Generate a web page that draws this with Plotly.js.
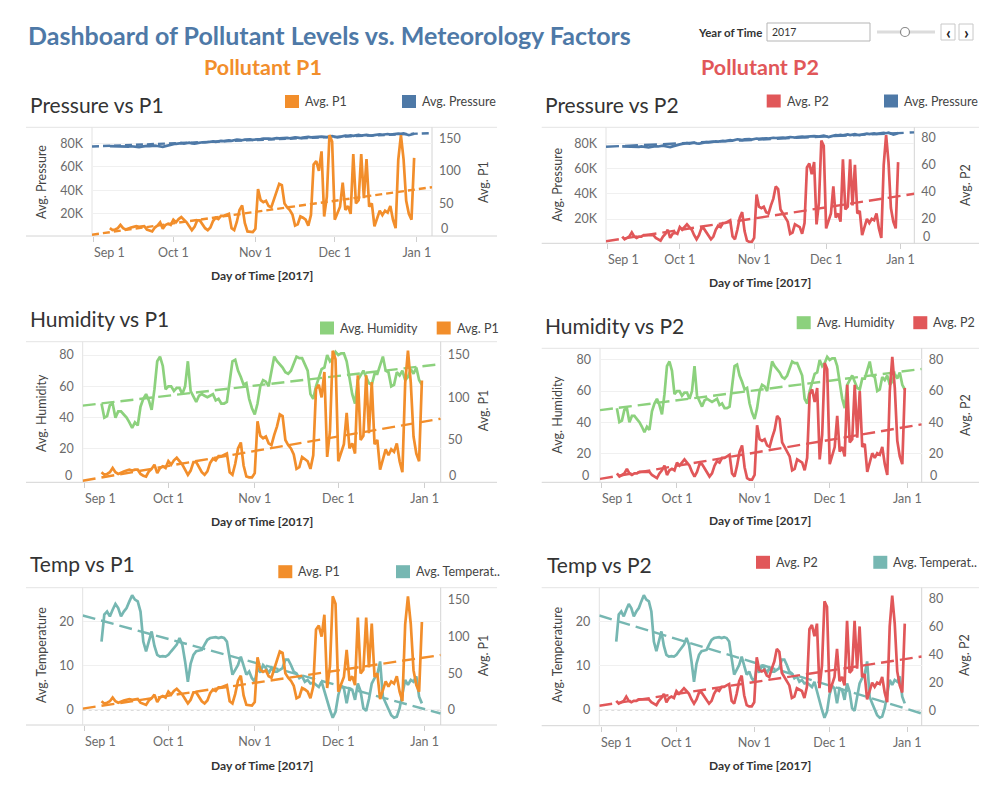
<!DOCTYPE html>
<html>
<head>
<meta charset="utf-8">
<script src="https://cdn.plot.ly/plotly-3.0.1.min.js"></script>
<style>
html,body{margin:0;padding:0;background:#ffffff;}
#chart{width:1000px;height:793px;}
</style>
</head>
<body>
<div id="chart"></div>
<script>
// ---------------- DATA (daily averages, 7 Sep 2017 .. 31 Dec 2017) ----------------
const firstDay = '2017-09-07';

const p1Values = [
  12, 9, 10, 12, 17, 12, 10, 12, 13, 14,
  15, 14, 15, 15, 10, 8, 7, 13, 16, 21,
  11, 17, 19, 17, 25, 21, 26, 29, 25, 21,
  15, 9, 14, 24, 24, 18, 12, 9, 13, 23,
  28, 26, 31, 31, 33, 34, 12, 9, 22, 40,
  47, 20, 7, 6, 6, 11, 72, 55, 52, 54,
  46, 44, 56, 66, 80, 78, 50, 44, 40, 33,
  16, 18, 30, 28, 25, 16, 32, 110, 115, 100,
  130, 30, 60, 155, 145, 25, 35, 45, 82, 40,
  46, 34, 126, 50, 55, 126, 58, 118, 45, 50,
  15, 28, 39, 32, 39, 36, 46, 25, 12, 117,
  155, 118, 54, 34, 25, 120
];

const p2Values = [
  7, 5, 6, 7, 10, 7, 6, 7, 7, 8,
  8, 8, 8, 8, 6, 5, 4, 7, 9, 12,
  6, 9, 10, 9, 14, 12, 14, 16, 14, 12,
  8, 5, 8, 13, 13, 10, 7, 5, 7, 12,
  15, 14, 17, 17, 18, 19, 7, 5, 12, 21,
  25, 11, 4, 3, 3, 6, 38, 29, 28, 29,
  25, 24, 30, 35, 44, 42, 27, 24, 22, 18,
  9, 10, 16, 15, 14, 9, 17, 58, 61, 53,
  62, 16, 32, 78, 74, 13, 19, 24, 44, 21,
  24, 18, 64, 27, 29, 64, 30, 60, 24, 26,
  8, 15, 20, 17, 20, 19, 24, 13, 6, 60,
  82, 62, 28, 18, 13, 62
];

const humidityValues = [
  49, 40, 41, 48, 49, 40, 44, 44, 42, 40,
  37, 33.5, 37, 35, 47, 52, 55, 51, 45, 58,
  76, 79, 73, 58, 60, 60, 57, 59, 59, 55,
  60, 76, 57, 53, 50, 54, 55, 54, 53, 54,
  55, 51, 52, 49, 49, 50, 63, 76, 77, 70,
  66, 61, 62, 52, 46, 42, 49, 60, 64, 63,
  60, 70, 79, 76, 74, 72, 69, 68, 70, 74,
  79, 78, 78, 74, 70, 55, 52, 60, 66, 71,
  72, 80, 76, 78, 82, 80, 81, 81, 76, 65,
  55, 49, 64, 67, 70, 66, 62, 61, 68, 68,
  73, 79, 70, 69, 60, 61, 69, 67, 70, 64,
  66, 71, 68, 72, 64, 61
];

const temperatureValues = [
  15.5, 21.6, 22.3, 21.2, 22.7, 24, 23.1, 21.2, 22.3, 23.1,
  24.6, 26, 25, 24.6, 22.3, 15.5, 13.3, 15.5, 17.8, 14.5,
  12.5, 12.1, 12.2, 12.1, 12.5, 13.3, 14, 14.8, 16.3, 14.8,
  11, 6.4, 10.5, 12.5, 13.3, 13.4, 13.6, 14.8, 15.9, 16.3,
  16.4, 16.5, 16.3, 16.5, 16.3, 15.5, 11.7, 8, 9.1, 10.2,
  12.1, 10.2, 8, 8.7, 7.2, 6.4, 9.5, 8.5, 10.2, 9.5,
  8.3, 9.5, 8.7, 8.7, 9.1, 9.5, 11.4, 11.4, 10.2, 8.7,
  8.3, 7.2, 7.6, 6.4, 6.8, 6, 6.2, 5.7, 5.2, 6.4,
  4.2, 1.9, 0, -1.75, -0.4, 3.4, 5.5, 4.9, 1.5, 4.9,
  4.6, 2.3, 6, 4.2, 0.4, -0.2, 2.5, 6, 7.2, 8,
  11, 3, 1.5, 0, -1.2, -1.75, -1.5, 0.4, 3.4, 6.8,
  5.7, 6.8, 6.4, 7.6, 3, 1.5
];

const pressureValues = [
  77600, 77500, 77300, 77100, 77400, 77200, 76900, 77200, 77500, 77300,
  77000, 76700, 77200, 77600, 77800, 77500, 77900, 78100, 77700, 77400,
  77000, 77600, 78300, 78800, 79200, 79600, 79900, 80200, 79800, 80100,
  80500, 80000, 79700, 80200, 80600, 80900, 80700, 81100, 81400, 81600,
  81300, 81700, 82000, 81800, 82200, 82500, 82100, 82700, 83200, 82900,
  82600, 83100, 83500, 83300, 83000, 83400, 83800, 83600, 83900, 84200,
  84000, 83700, 84100, 84400, 84200, 84500, 84800, 84600, 84300, 84700,
  85000, 84800, 84500, 84900, 85200, 85400, 85100, 85300, 85600, 85400,
  85700, 85500, 85300, 85800, 86100, 85600, 85000, 85500, 86200, 86500,
  86300, 86700, 86400, 86800, 87100, 86600, 86900, 87200, 86800, 86500,
  87000, 87400, 87700, 87300, 87600, 87900, 87500, 87800, 88100, 88300,
  88000, 88400, 87700, 86900, 87500, 88200
];

// linear trend lines (value at left and right end of the date axis)
const trendDates = ['2017-08-31 06:00', '2018-01-06 18:00'];
const p1Trend = [2, 75];
const p2Trend = [3.5, 38.6];
const humidityTrend = [47.7, 74.2];
const temperatureTrend = [21.4, -0.8];
const pressureTrend = [77300, 88700];

// ticks
const dateTicks = ['2017-09-01', '2017-10-01', '2017-11-01', '2017-12-01', '2018-01-01'];
const dateTickLabels = ['Sep 1', 'Oct 1', 'Nov 1', 'Dec 1', 'Jan 1'];
const pressureTicks = [20000, 40000, 60000, 80000];
const pressureTickLabels = ['20K', '40K', '60K', '80K'];
const p1Ticks = [0, 50, 100, 150];
const p2Ticks = [0, 20, 40, 60, 80];
const humidityTicks = [0, 20, 40, 60, 80];
const temperatureTicks = [0, 10, 20];

// ---------------- BUILD ----------------
function buildDates(n) {
  const out = [];
  const base = new Date(firstDay + 'T00:00:00Z');
  for (let i = 0; i < n; i++) {
    const d = new Date(base.getTime() + i * 86400000);
    out.push(d.toISOString().slice(0, 10));
  }
  return out;
}
const dates = buildDates(p1Values.length);

const W = 1000, H = 793;
const fx = x => x / W;
const fy = y => 1 - y / H;
const FONT = 'Lato, "Open Sans", "DejaVu Sans", sans-serif';

const COL = {p1: '#f28e2b', p2: '#e15759', pressure: '#4e79a7', humidity: '#8cd17d', temp: '#76b7b2'};
const xRange = ['2017-08-31 06:00', '2018-01-06 18:00'];

// zL / zR : pixel y of a "0" tick label nudged above the axis floor (Tableau style), or null
const panels = [
  {title: 'Pressure vs P1', box: [92, 432, 127.3, 236], frame: [26, 497], dash: '7px,4px',
   L: {name: 'Avg. Pressure', v: pressureValues, t: pressureTrend, c: COL.pressure, range: [1300, 93600], tv: pressureTicks, tt: pressureTickLabels},
   R: {name: 'Avg. P1', v: p1Values, t: p1Trend, c: COL.p1, range: [0, 167], tv: p1Ticks},
   zL: null, zR: 228.5,
   titleAt: [30, 105], leg: [[285, 101.5, COL.p1, 'Avg. P1'], [402, 101.5, COL.pressure, 'Avg. Pressure']],
   yl: [41, 182], yr: [483, 182], xt: [262, 275], zero: false},
  {title: 'Pressure vs P2', box: [606, 914.3, 127.3, 243.3], frame: [541.7, 979], dash: '13px,6px',
   L: {name: 'Avg. Pressure', v: pressureValues, t: pressureTrend, c: COL.pressure, range: [750, 92700], tv: pressureTicks, tt: pressureTickLabels},
   R: {name: 'Avg. P2', v: p2Values, t: p2Trend, c: COL.p2, range: [2, 87.7], tv: p2Ticks},
   zL: null, zR: 236.7,
   titleAt: [545, 105], leg: [[766.7, 101, COL.p2, 'Avg. P2'], [884, 101, COL.pressure, 'Avg. Pressure']],
   yl: [556.7, 185], yr: [965, 185], xt: [760, 282.7], zero: false},
  {title: 'Humidity vs P1', box: [82.7, 440.7, 341.7, 482.3], frame: [26, 497], dash: '13px,6px',
   L: {name: 'Avg. Humidity', v: humidityValues, t: humidityTrend, c: COL.humidity, range: [-1.3, 88.5], tv: humidityTicks},
   R: {name: 'Avg. P1', v: p1Values, t: p1Trend, c: COL.p1, range: [0.2, 165.6], tv: p1Ticks},
   zL: 475, zR: 475,
   titleAt: [30, 318.3], leg: [[320, 328, COL.humidity, 'Avg. Humidity'], [436.7, 328, COL.p1, 'Avg. P1']],
   yl: [41, 413], yr: [483.3, 410], xt: [261.7, 521.7], zero: false},
  {title: 'Humidity vs P2', box: [600, 921.7, 348.3, 482.3], frame: [541.7, 979], dash: '13px,6px',
   L: {name: 'Avg. Humidity', v: humidityValues, t: humidityTrend, c: COL.humidity, range: [1.3, 87.5], tv: humidityTicks},
   R: {name: 'Avg. P2', v: p2Values, t: p2Trend, c: COL.p2, range: [1.3, 87.5], tv: p2Ticks},
   zL: 475, zR: 475,
   titleAt: [545, 325], leg: [[796.7, 322.7, COL.humidity, 'Avg. Humidity'], [913.3, 322.7, COL.p2, 'Avg. P2']],
   yl: [556.7, 415], yr: [965, 415], xt: [760, 520.7], zero: false},
  {title: 'Temp vs P1', box: [82.7, 440.7, 587.7, 725], frame: [26, 497], dash: '13px,6px',
   L: {name: 'Avg. Temperature', v: temperatureValues, t: temperatureTrend, c: COL.temp, range: [-3.4, 27.7], tv: temperatureTicks},
   R: {name: 'Avg. P1', v: p1Values, t: p1Trend, c: COL.p1, range: [-20.4, 166.8], tv: p1Ticks},
   zL: null, zR: null,
   titleAt: [30, 563.3], leg: [[278.3, 571.7, COL.p1, 'Avg. P1'], [396, 571.7, COL.temp, 'Avg. Temperat..']],
   yl: [41, 655], yr: [483.3, 655], xt: [261.7, 765], zero: true},
  {title: 'Temp vs P2', box: [599.3, 921.7, 587.7, 725.7], frame: [541.7, 979], dash: '13px,6px',
   L: {name: 'Avg. Temperature', v: temperatureValues, t: temperatureTrend, c: COL.temp, range: [-3.56, 27.7], tv: temperatureTicks},
   R: {name: 'Avg. P2', v: p2Values, t: p2Trend, c: COL.p2, range: [-10.7, 87.6], tv: p2Ticks},
   zL: null, zR: null,
   titleAt: [546.7, 564.3], leg: [[756, 562.3, COL.p2, 'Avg. P2'], [873.3, 562.3, COL.temp, 'Avg. Temperat..']],
   yl: [556.7, 655], yr: [964, 655], xt: [760, 765], zero: true}
];

const traces = [];
const layout = {
  width: W, height: H,
  margin: {l: 0, r: 0, t: 0, b: 0},
  paper_bgcolor: '#ffffff', plot_bgcolor: 'rgba(0,0,0,0)',
  showlegend: false,
  font: {family: FONT, color: '#333333'},
  shapes: [], annotations: []
};

const lineCol = '#d4d4d4';
const TICK_SIZE = 12.5;
const tickFont = {family: FONT, size: TICK_SIZE, color: '#6b6b6b'};

function txt(x, y, text, opts) {
  return Object.assign({xref: 'paper', yref: 'paper', x: fx(x), y: fy(y), text: text, showarrow: false,
    xanchor: 'left', yanchor: 'middle', borderpad: 0}, opts);
}

panels.forEach((p, i) => {
  const n = i + 1;
  const xa = n === 1 ? 'x' : 'x' + n;
  const yl = (2 * n - 1) === 1 ? 'y' : 'y' + (2 * n - 1);
  const yr = 'y' + (2 * n);
  const [l, r, t, b] = p.box;
  const A = layout.annotations;
  const S = layout.shapes;

  // first date label is left-aligned at its tick (drawn as annotation, same baseline as the others)
  const xText = dateTickLabels.map((s, k) => (k === 0 ? '' : s));
  layout[n === 1 ? 'xaxis' : 'xaxis' + n] = {
    domain: [fx(l), fx(r)], anchor: yl, type: 'date', range: xRange,
    tickmode: 'array', tickvals: dateTicks, ticktext: xText,
    ticks: 'outside', ticklen: 5, tickcolor: '#cfcfcf', tickwidth: 1,
    ticklabelstandoff: 0,
    showgrid: false, zeroline: false, showline: false, tickfont: tickFont, fixedrange: true
  };
  A.push({xref: xa, yref: 'paper', x: dateTicks[0], y: fy(b + 5 + 3), xanchor: 'left', yanchor: 'top',
    xshift: -1, text: dateTickLabels[0], showarrow: false, borderpad: 0, font: tickFont});

  const lTicks = p.zL ? p.L.tv.filter(v => v !== 0) : p.L.tv;
  const lText = p.L.tt ? p.L.tt : lTicks.map(String);
  layout[(2 * n - 1) === 1 ? 'yaxis' : 'yaxis' + (2 * n - 1)] = {
    domain: [fy(b), fy(t)], anchor: xa, range: p.L.range,
    tickmode: 'array', tickvals: lTicks, ticktext: lText,
    ticks: '', ticklabelstandoff: 8,
    showgrid: true, gridcolor: '#f0f0f0', gridwidth: 1,
    zeroline: false, showline: false, tickfont: tickFont, fixedrange: true
  };
  const rTicks = p.zR ? p.R.tv.filter(v => v !== 0) : p.R.tv;
  layout['yaxis' + (2 * n)] = {
    overlaying: yl, side: 'right', anchor: xa, range: p.R.range,
    tickmode: 'array', tickvals: rTicks, ticktext: rTicks.map(String),
    ticks: '', ticklabelstandoff: 6,
    showgrid: false, zeroline: false, showline: false, tickfont: tickFont, fixedrange: true
  };
  if (p.zL) A.push(txt(l - 10, p.zL, '0', {xanchor: 'right', font: tickFont}));
  if (p.zR) A.push(txt(r + 7.5, p.zR, '0', {xanchor: 'left', font: tickFont}));

  // data + trend for left measure
  traces.push({x: dates, y: p.L.v, xaxis: xa, yaxis: yl, type: 'scatter', mode: 'lines',
    line: {color: p.L.c, width: 2.7}, hoverinfo: 'skip', name: p.L.name});
  traces.push({x: trendDates, y: p.L.t, xaxis: xa, yaxis: yl, type: 'scatter', mode: 'lines',
    line: {color: p.L.c, width: 2.4, dash: p.dash}, hoverinfo: 'skip', name: p.L.name + ' trend'});
  // data + trend for right measure
  traces.push({x: dates, y: p.R.v, xaxis: xa, yaxis: yr, type: 'scatter', mode: 'lines',
    line: {color: p.R.c, width: 2.7}, hoverinfo: 'skip', name: p.R.name});
  traces.push({x: trendDates, y: p.R.t, xaxis: xa, yaxis: yr, type: 'scatter', mode: 'lines',
    line: {color: p.R.c, width: 2.4, dash: p.dash}, hoverinfo: 'skip', name: p.R.name + ' trend'});

  // frame lines
  S.push({type: 'line', xref: 'paper', yref: 'paper', x0: fx(p.frame[0]), x1: fx(p.frame[1]), y0: fy(t), y1: fy(t), line: {color: '#e4e4e4', width: 1}, layer: 'below'});
  S.push({type: 'line', xref: 'paper', yref: 'paper', x0: fx(p.frame[0]), x1: fx(p.frame[1]), y0: fy(b), y1: fy(b), line: {color: lineCol, width: 1}, layer: 'below'});
  S.push({type: 'line', xref: 'paper', yref: 'paper', x0: fx(l), x1: fx(l), y0: fy(t), y1: fy(b), line: {color: '#e2e2e2', width: 1}, layer: 'below'});
  S.push({type: 'line', xref: 'paper', yref: 'paper', x0: fx(r), x1: fx(r), y0: fy(t), y1: fy(b), line: {color: lineCol, width: 1}, layer: 'below'});
  if (p.zero) {
    S.push({type: 'line', xref: xa + ' domain', yref: yl, x0: 0, x1: 1, y0: 0, y1: 0, line: {color: '#b8b8b8', width: 1, dash: 'dot'}, layer: 'below'});
  }
  // legend squares + labels
  p.leg.forEach(([lx, ly, c, label]) => {
    S.push({type: 'rect', xref: 'paper', yref: 'paper', x0: fx(lx), x1: fx(lx + 14), y0: fy(ly + 6.5), y1: fy(ly - 6.5), fillcolor: c, line: {width: 0}});
    A.push(txt(lx + 19, ly, label, {font: {family: FONT, size: 12.5, color: '#444444'}}));
  });
  // titles
  A.push(txt(p.titleAt[0] - 1, p.titleAt[1], p.title, {font: {family: FONT, size: 21, color: '#333333'}}));
  A.push(txt(p.yl[0], p.yl[1], p.L.name, {xanchor: 'center', textangle: -90, font: {family: FONT, size: 12.5, color: '#444444'}}));
  A.push(txt(p.yr[0], p.yr[1], p.R.name, {xanchor: 'center', textangle: -90, font: {family: FONT, size: 12.5, color: '#444444'}}));
  A.push(txt(p.xt[0], p.xt[1], '<b>Day of Time [2017]</b>', {xanchor: 'center', font: {family: FONT, size: 12, color: '#333333'}}));
});

// ---------------- HEADER ----------------
const A = layout.annotations, S = layout.shapes;
A.push(txt(27, 35, '<b>Dashboard of Pollutant Levels vs. Meteorology Factors</b>', {font: {family: FONT, size: 25, color: '#4e79a7'}}));
A.push(txt(262.5, 67, '<b>Pollutant P1</b>', {xanchor: 'center', font: {family: FONT, size: 21.5, color: '#f28e2b'}}));
A.push(txt(760, 67, '<b>Pollutant P2</b>', {xanchor: 'center', font: {family: FONT, size: 21.5, color: '#e15759'}}));
A.push(txt(763, 32, '<b>Year of Time</b>', {xanchor: 'right', font: {family: FONT, size: 11.5, color: '#333333'}}));
S.push({type: 'rect', xref: 'paper', yref: 'paper', x0: fx(767), x1: fx(870), y0: fy(41), y1: fy(23), fillcolor: '#ffffff', line: {color: '#b5b5b5', width: 1}});
A.push(txt(771, 32, '2017', {font: {family: FONT, size: 10.5, color: '#333333'}}));
S.push({type: 'line', xref: 'paper', yref: 'paper', x0: fx(877), x1: fx(935), y0: fy(32), y1: fy(32), line: {color: '#dcdcdc', width: 3}});
S.push({type: 'circle', xref: 'paper', yref: 'paper', x0: fx(900.5), x1: fx(909.5), y0: fy(36.5), y1: fy(27.5), fillcolor: '#ffffff', line: {color: '#8a8a8a', width: 1.2}});
S.push({type: 'rect', xref: 'paper', yref: 'paper', x0: fx(941), x1: fx(955), y0: fy(40), y1: fy(24), fillcolor: '#ffffff', line: {color: '#c8c8c8', width: 1}});
S.push({type: 'rect', xref: 'paper', yref: 'paper', x0: fx(959), x1: fx(973), y0: fy(40), y1: fy(24), fillcolor: '#ffffff', line: {color: '#c8c8c8', width: 1}});
A.push(txt(948, 32, '<b>‹</b>', {xanchor: 'center', font: {family: FONT, size: 17, color: '#222222'}}));
A.push(txt(966, 32, '<b>›</b>', {xanchor: 'center', font: {family: FONT, size: 17, color: '#222222'}}));

Plotly.newPlot('chart', traces, layout, {displayModeBar: false, staticPlot: true});
</script>
</body>
</html>
